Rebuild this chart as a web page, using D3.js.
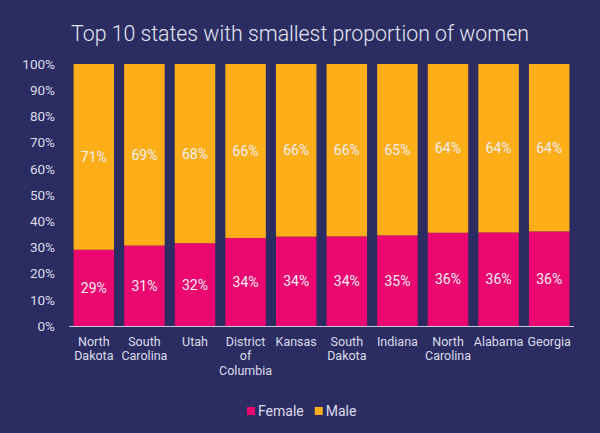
<!DOCTYPE html>
<html><head><meta charset="utf-8">
<script src="https://cdn.jsdelivr.net/npm/d3@7"></script>
<style>html,body{margin:0;padding:0;background:#2b2d62;}svg{display:block;}</style>
</head><body>
<script>
const states = [["North","Dakota"],["South","Carolina"],["Utah"],["District","of","Columbia"],["Kansas"],["South","Dakota"],["Indiana"],["North","Carolina"],["Alabama"],["Georgia"]];
const female = [29.1, 30.7, 31.6, 33.6, 34.1, 34.2, 34.6, 35.6, 35.7, 36.1];
const male = female.map(f => 100 - f);
const yTicks = [0,10,20,30,40,50,60,70,80,90,100];
const seriesNames = ["Female","Male"];
const colors = {Female:"#eb0670", Male:"#fdae19"};
const W=600,H=433;
const svg=d3.select("body").append("svg").attr("width",W).attr("height",H);
svg.append("rect").attr("width",W).attr("height",H).attr("fill","#2b2d62");
svg.append("text").attr("x",71).attr("y",41).attr("fill","#e6e6f0")
  .style("font-family","Roboto").style("font-weight",300).style("font-size","21.3px")
  .text("Top 10 states with smallest proportion of women");
const keys = states.map(s=>s.join(" "));
const x=d3.scaleBand().domain(keys).range([68.5,574.5]).paddingInner(0.2).paddingOuter(0.1);
const y=d3.scaleLinear().domain([0,100]).range([326,64]);
const data = keys.map((k,i)=>({key:k,Female:female[i],Male:male[i]}));
const stack=d3.stack().keys(seriesNames)(data);
const g=svg.append("g");
stack.forEach(layer=>{
  g.selectAll(null).data(layer).enter().append("rect")
   .attr("x",d=>x(d.data.key)).attr("width",x.bandwidth())
   .attr("y",d=>y(d[1])).attr("height",d=>y(d[0])-y(d[1]))
   .attr("fill",colors[layer.key]);
  g.selectAll(null).data(layer).enter().append("text")
   .attr("x",d=>x(d.data.key)+x.bandwidth()/2)
   .attr("y",d=>(y(d[0])+y(d[1]))/2).attr("dy","0.35em")
   .attr("text-anchor","middle").attr("fill","#f4eef4")
   .style("font-family","Roboto").style("font-size","14px")
   .text(d=>Math.round(d[1]-d[0])+"%");
});
// y axis
const ya=svg.append("g").attr("transform","translate(69,0)")
  .call(d3.axisLeft(y).tickValues(yTicks).tickFormat(d=>d+"%").tickSize(0).tickPadding(14));
ya.select(".domain").remove();
ya.selectAll("text").attr("fill","#dcdcea").style("font-family","Roboto").style("font-size","13.5px");
// x axis
const xa=svg.append("g").attr("transform","translate(0,326)")
  .call(d3.axisBottom(x).tickSize(0).tickFormat(""));
xa.select(".domain").attr("stroke","#c8c8d8").attr("stroke-width",1).attr("d","M69,0.5H574");
xa.selectAll(".tick").each(function(d,i){
  const t=d3.select(this).append("text").attr("fill","#dcdcea").attr("text-anchor","middle")
    .style("font-family","Roboto").style("font-size","12.5px");
  states[i].forEach((ln,j)=>t.append("tspan").attr("x",0).attr("y",19.5+j*14.6).text(ln));
});
// legend
const leg=svg.append("g").attr("transform","translate(247,407)");
let lx=0;
seriesNames.forEach(s=>{
  leg.append("rect").attr("x",lx).attr("y",0).attr("width",8).attr("height",8).attr("fill",colors[s]);
  const t=leg.append("text").attr("x",lx+11).attr("y",4).attr("dy","0.35em").attr("fill","#dcdcea")
   .style("font-family","Roboto").style("font-size","14px").text(s);
  lx += 11 + t.node().getComputedTextLength() + 11;
});
</script>
</body></html>
